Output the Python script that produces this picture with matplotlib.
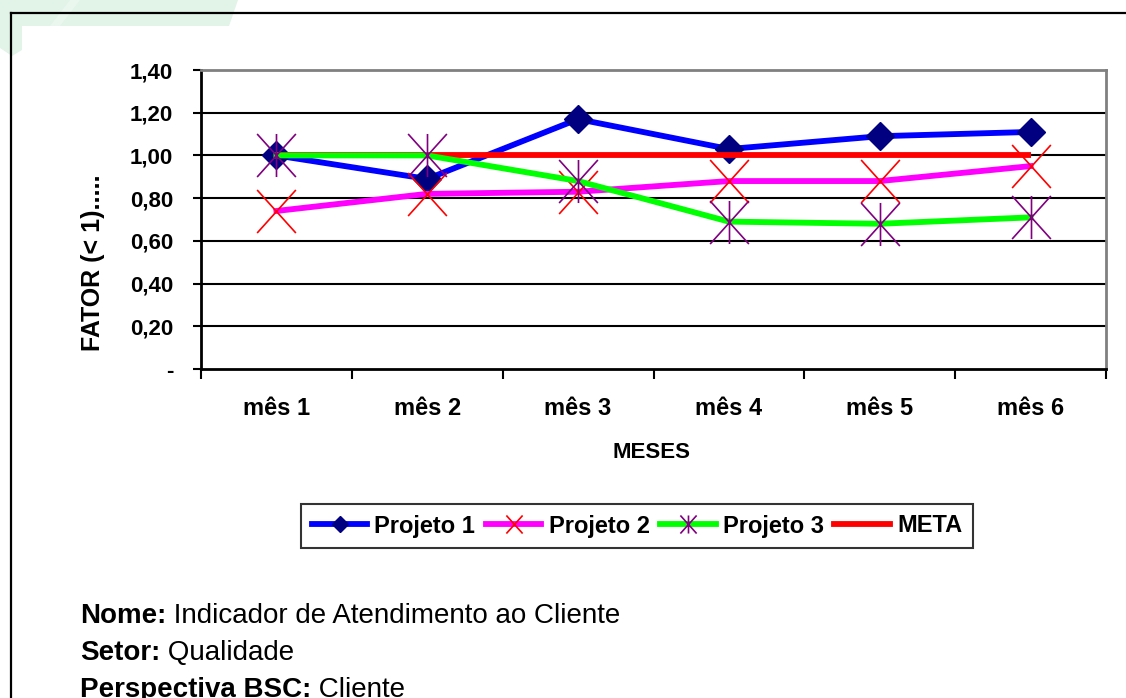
import numpy as np
import matplotlib
matplotlib.use("Agg")
import matplotlib.pyplot as plt
from matplotlib.path import Path
from matplotlib.patches import Polygon
from matplotlib.lines import Line2D

plt.rcParams['font.family'] = ['Liberation Sans', 'DejaVu Sans']

meses = ["mês 1", "mês 2", "mês 3", "mês 4", "mês 5", "mês 6"]
projeto1 = [1.00, 0.89, 1.17, 1.03, 1.09, 1.11]
projeto2 = [0.74, 0.82, 0.83, 0.88, 0.88, 0.95]
projeto3 = [1.00, 1.00, 0.88, 0.69, 0.68, 0.71]
meta = [1.00, 1.00, 1.00, 1.00, 1.00, 1.00]
yticks = [0.0, 0.2, 0.4, 0.6, 0.8, 1.0, 1.2, 1.4]
ytick_labels = ["-", "0,20", "0,40", "0,60", "0,80", "1,00", "1,20", "1,40"]
series_names = ["Projeto 1", "Projeto 2", "Projeto 3", "META"]

W, H = 1126, 698
fig = plt.figure(figsize=(W / 100, H / 100), dpi=100)

# background layer in pixel coordinates
bg = fig.add_axes([0, 0, 1, 1], zorder=0)
bg.set_xlim(0, W)
bg.set_ylim(H, 0)
bg.axis('off')
lite = '#e2f3e8'
bg.add_patch(Polygon([(0, 0), (238, 0), (229, 26), (22, 26), (22, 50), (12, 56), (0, 48)],
                     closed=True, facecolor=lite, edgecolor='none'))
bg.add_patch(Polygon([(50, 26), (60, 26), (80, 0), (70, 0)], closed=True,
                     facecolor='#eaf7ef', edgecolor='none'))
# outer frame
bg.plot([11, W + 5], [13, 13], color='black', lw=1.6, solid_capstyle='projecting')
bg.plot([11, 11], [13, H + 5], color='black', lw=1.6, solid_capstyle='projecting')

# asterisk marker: x with a vertical bar
star = Path([(-0.9, -1), (0.9, 1), (-0.9, 1), (0.9, -1), (0, -1), (0, 1)],
            [Path.MOVETO, Path.LINETO, Path.MOVETO, Path.LINETO, Path.MOVETO, Path.LINETO])
cross = Path([(-0.9, -1), (0.9, 1), (-0.9, 1), (0.9, -1)],
             [Path.MOVETO, Path.LINETO, Path.MOVETO, Path.LINETO])

left, right, top, bottom = 201, 1106, 70, 369
ax = fig.add_axes([left / W, 1 - bottom / H, (right - left) / W, (bottom - top) / H], zorder=2)
ax.set_facecolor('none')
x = np.arange(len(meses))

ax.plot(x, projeto1, color='#0000ff', lw=4.2, marker='D', ms=14,
        mfc='#000080', mec='#000080', zorder=3)
ax.plot(x, projeto2, color='#ff00ff', lw=4.2, marker=cross, ms=31,
        mfc='none', mec='#ff0000', mew=1.2, zorder=4)
ax.plot(x, projeto3, color='#00ff00', lw=4.2, marker=star, ms=31,
        mfc='none', mec='#800080', mew=1.2, zorder=5)
ax.plot(x, meta, color='#ff0000', lw=4.2, zorder=4.5, solid_capstyle='butt')

ax.set_xlim(-0.5, len(meses) - 0.5)
ax.set_ylim(0, 1.4)
for v in yticks[1:-1]:
    ax.axhline(v, color='black', lw=1.5, zorder=1)

ax.set_yticks(yticks)
ax.set_yticklabels(ytick_labels, fontsize=16, fontweight='bold')
ax.tick_params(axis='y', direction='out', length=6, width=1.5, pad=14)
ax.set_xticks(x)
ax.set_xticklabels(meses, fontsize=17, fontweight='bold')
ax.set_xticks(np.arange(-0.5, len(meses)), minor=True)
ax.tick_params(axis='x', which='major', length=0, pad=20)
ax.tick_params(axis='x', which='minor', direction='out', length=7, width=1.5)

for s in ['left', 'bottom']:
    ax.spines[s].set_color('black')
    ax.spines[s].set_linewidth(2)
for s in ['top', 'right']:
    ax.spines[s].set_color('#808080')
    ax.spines[s].set_linewidth(2)

fig.text(93 / W, 1 - 263 / H, "FATOR (< 1).....", rotation=90, ha='center', va='center',
         fontsize=18, fontweight='bold')
fig.text(652 / W, 1 - 453 / H, "MESES", ha='center', va='center',
         fontsize=16, fontweight='bold')

handles = [
    Line2D([], [], color='#0000ff', lw=4.2, marker='D', ms=8, mfc='#000080', mec='#000080'),
    Line2D([], [], color='#ff00ff', lw=4.2, marker=cross, ms=13, mfc='none', mec='#ff0000', mew=1.2),
    Line2D([], [], color='#00ff00', lw=4.2, marker=star, ms=13, mfc='none', mec='#800080', mew=1.2),
    Line2D([], [], color='#ff0000', lw=4.2),
]
leg = fig.legend(handles, series_names, ncol=4,
                 loc='center', bbox_to_anchor=(637 / W, 1 - 526 / H), frameon=True,
                 fancybox=False, edgecolor='black', handlelength=2.35, handletextpad=0.3,
                 columnspacing=0.45, borderpad=0.45, borderaxespad=0,
                 prop={'size': 17, 'weight': 'bold'})
leg.get_frame().set_linewidth(1.5)

# descriptive block under the chart
info = [("Nome:", " Indicador de Atendimento ao Cliente"),
        ("Setor:", " Qualidade"),
        ("Perspectiva BSC:", " Cliente")]
for i, (bold, rest) in enumerate(info):
    y = 616 + 37 * i
    t = fig.text(80 / W, 1 - y / H, bold, ha='left', va='center', fontsize=20, fontweight='bold')
    ax.annotate(rest, xy=(1, 0), xycoords=t, va='bottom', ha='left', fontsize=20,
                annotation_clip=False)

fig.savefig("out.png", dpi=100)
